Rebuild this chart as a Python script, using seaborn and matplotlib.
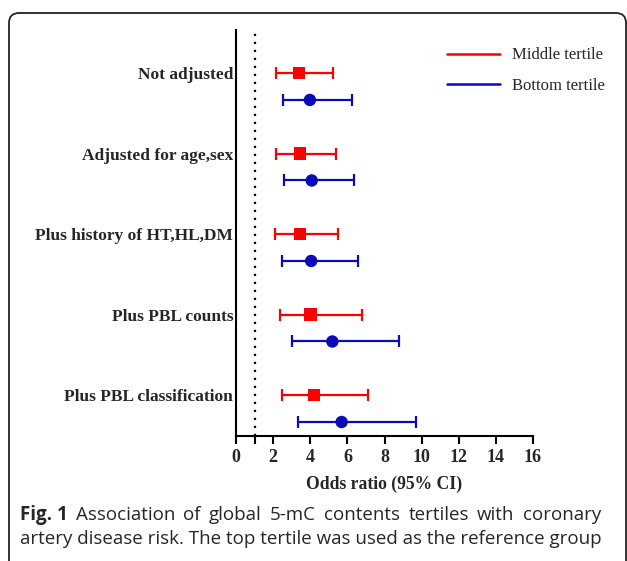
import seaborn as sns
import matplotlib.pyplot as plt
import pandas as pd
from matplotlib.lines import Line2D
from matplotlib.patches import FancyBboxPatch
from matplotlib.transforms import IdentityTransform

models = ["Not adjusted", "Adjusted for age,sex", "Plus history of HT,HL,DM",
          "Plus PBL counts", "Plus PBL classification"]
mid_or = [3.4, 3.45, 3.45, 4.02, 4.2]
mid_lo = [2.15, 2.18, 2.1, 2.37, 2.48]
mid_hi = [5.25, 5.37, 5.5, 6.77, 7.1]
bot_or = [3.98, 4.08, 4.05, 5.19, 5.69]
bot_lo = [2.55, 2.59, 2.5, 3.04, 3.32]
bot_hi = [6.23, 6.34, 6.55, 8.78, 9.7]
xticks = [0, 2, 4, 6, 8, 10, 12, 14, 16]

caption_1 = "Association of global 5-mC contents tertiles with coronary"
caption_2 = "artery disease risk. The top tertile was used as the reference group"

RED = "#ff0000"
BLUE = "#0b0bb8"
serif = ["Liberation Serif", "DejaVu Serif"]

rows = []
for i, m in enumerate(models):
    rows.append({"model": m, "pos": i, "group": "Middle tertile",
                 "or": mid_or[i], "lo": mid_lo[i], "hi": mid_hi[i]})
    rows.append({"model": m, "pos": i + 0.335, "group": "Bottom tertile",
                 "or": bot_or[i], "lo": bot_lo[i], "hi": bot_hi[i]})
df = pd.DataFrame(rows)

sns.set_style("ticks")
fig = plt.figure(figsize=(6.27, 5.61), dpi=100)
ax = fig.add_axes([0.3764, 0.2228, 0.4737, 0.7237])

colors = {"Middle tertile": RED, "Bottom tertile": BLUE}
for g, sub in df.groupby("group"):
    ax.errorbar(sub["or"], sub["pos"],
                xerr=[sub["or"] - sub["lo"], sub["hi"] - sub["or"]],
                fmt="none", ecolor=colors[g], elinewidth=1.6, capsize=4,
                capthick=1.6, zorder=2)

sns.scatterplot(data=df, x="or", y="pos", hue="group", style="group",
                palette=colors, markers={"Middle tertile": "s", "Bottom tertile": "o"},
                s=80, edgecolor="none", legend=False, ax=ax, zorder=3)

ax.axvline(1, color="black", lw=1.6, ls=(0, (1, 2.6)), zorder=1, clip_on=False)

ax.set_xlim(0, 16)
ax.set_ylim(4.509, -0.534)
ax.set_xticks(xticks)
ax.set_xticks([1], minor=True)
ax.set_xticklabels([str(t) for t in xticks], fontfamily=serif,
                   fontweight="bold", fontsize=13)
ax.set_yticks(range(len(models)))
ax.set_yticklabels(models, fontfamily=serif, fontweight="bold", fontsize=12.5)
ax.tick_params(axis="y", length=0, pad=2)
ax.tick_params(axis="x", which="both", length=5.5, width=1.5, color="black", pad=4)
ax.set_xlabel("Odds ratio (95% CI)", fontfamily=serif, fontweight="bold",
              fontsize=12.7, labelpad=7)
ax.set_ylabel("")
sns.despine(ax=ax)
for sp in ["left", "bottom"]:
    ax.spines[sp].set_linewidth(1.5)
    ax.spines[sp].set_color("black")

handles = [Line2D([0], [0], color=RED, lw=1.8),
           Line2D([0], [0], color=BLUE, lw=1.8)]
ax.legend(handles, ["Middle tertile", "Bottom tertile"], loc="upper left",
          bbox_to_anchor=(0.71, 0.957), frameon=False, borderpad=0,
          borderaxespad=0, handlelength=3.2, handletextpad=0.7,
          labelspacing=0.88, prop={"family": serif, "size": 12})

box = FancyBboxPatch((9, -60), 617, 561 - 13 + 60,
                     boxstyle="round,pad=0,rounding_size=10",
                     transform=IdentityTransform(), fill=False,
                     edgecolor="#222222", lw=1.3)
fig.add_artist(box)

# caption, first line justified to the right margin
cap_font = ["Open Sans", "DejaVu Sans"]
cap_size = 13.5
left_px, right_px = 20, 601
y1, y2 = 1 - 520 / 561, 1 - 544 / 561
renderer = fig.canvas.get_renderer()
words = [("Fig. 1", "bold")] + [(w, "normal") for w in caption_1.split()]
texts = [fig.text(0, y1, w, fontfamily=cap_font, fontweight=wt,
                  fontsize=cap_size, va="baseline") for w, wt in words]
widths = [t.get_window_extent(renderer).width for t in texts]
gap = (right_px - left_px - sum(widths)) / (len(texts) - 1)
x = left_px
for t, w in zip(texts, widths):
    t.set_x(x / 627)
    x += w + gap
fig.text(left_px / 627, y2, caption_2, fontfamily=cap_font, fontsize=cap_size,
         va="baseline")

fig.savefig("out.png", dpi=100)
